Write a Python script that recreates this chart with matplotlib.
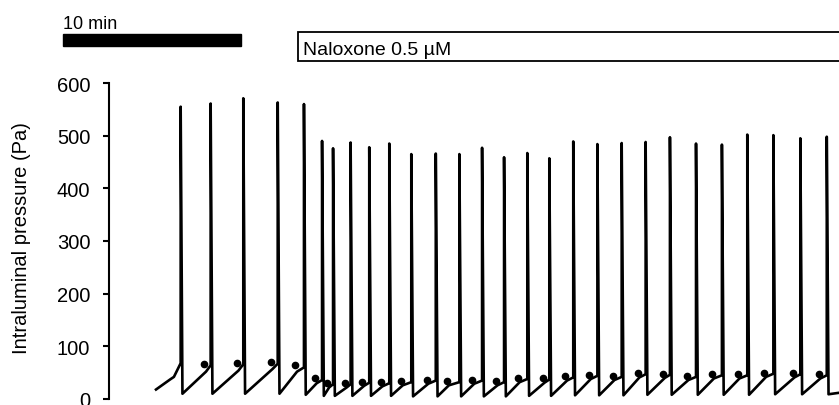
import matplotlib
matplotlib.use("Agg")
import matplotlib.pyplot as plt
from matplotlib.patches import Rectangle

plt.rcParams["font.family"] = ["Liberation Sans", "DejaVu Sans"]

# Contraction spikes (time in min, peak in Pa)
spike_t = [4.04, 5.73, 7.57, 9.51, 10.99, 12.01, 12.63, 13.62, 14.67, 15.80,
           17.04, 18.42, 19.75, 21.03, 22.27, 23.58, 24.82, 26.17, 27.53, 28.90,
           30.25, 31.62, 33.09, 34.55, 35.98, 37.45, 38.97, 40.46]
spike_peak = [555, 561, 571, 563, 560, 490, 476, 487, 478, 485,
              465, 466, 465, 477, 459, 467, 457, 489, 484, 486,
              488, 497, 485, 483, 502, 501, 495, 498]
# baseline pressure right before each spike
pre_v = [68, 64, 66, 67, 60, 36, 28, 28, 31, 30,
         32, 35, 32, 35, 32, 38, 37, 41, 44, 42,
         47, 46, 42, 45, 45, 48, 47, 45]
# minimum pressure right after each spike
trough_v = [10, 10, 10, 10, 8, 6, 6, 6, 6, 6,
            5, 5, 5, 5, 5, 6, 6, 7, 7, 7,
            8, 8, 8, 8, 8, 9, 9, 9]

# threshold markers (dots) between spikes
dot_t = [5.37, 7.20, 9.12, 10.50, 11.61, 12.31, 13.30, 14.28, 15.31, 16.46,
         17.90, 19.06, 20.49, 21.80, 23.05, 24.45, 25.72, 27.06, 28.39, 29.80,
         31.23, 32.56, 34.00, 35.44, 36.94, 38.54, 40.00]
dot_v = [66, 68, 70, 64, 39, 30, 30, 33, 32, 34,
         37, 34, 37, 34, 40, 39, 43, 46, 44, 49,
         48, 44, 47, 47, 50, 49, 47]
# trace level at the dots
shoulder_v = [52, 54, 57, 52, 30, 22, 22, 25, 24, 26,
              29, 26, 29, 26, 32, 31, 35, 38, 36, 41,
              40, 36, 39, 39, 42, 41, 39]

# start and end of the recording
lead_t = [2.65, 3.44, 3.66]
lead_v = [18, 37, 42]
tail_t = [41.2]
tail_v = [12]

# build the trace
xs = list(lead_t)
ys = list(lead_v)
for i in range(len(spike_t)):
    xs += [spike_t[i], spike_t[i], spike_t[i] + 0.1]
    ys += [pre_v[i], spike_peak[i], trough_v[i]]
    if i < len(dot_t):
        xs.append(dot_t[i] + 0.1)
        ys.append(shoulder_v[i])
xs += tail_t
ys += tail_v

fig = plt.figure(figsize=(8.39, 4.06), dpi=100)
ax = fig.add_axes([109 / 839, 6 / 406, 730 / 839, 316 / 406])

ax.plot(xs, ys, color="black", lw=1.9, solid_joinstyle="round")
ax.plot(dot_t, dot_v, "o", color="black", ms=4.5)

ax.set_xlim(0, 41.15)
ax.set_ylim(0, 600)
ax.set_yticks([0, 100, 200, 300, 400, 500, 600])
ax.tick_params(axis="y", labelsize=14.5, width=1.5, length=4.5, pad=9)
ax.set_xticks([])
for s in ["top", "right", "bottom"]:
    ax.spines[s].set_visible(False)
ax.spines["left"].set_linewidth(1.5)

fig.text(21.5 / 839, 1 - 238 / 406, "Intraluminal pressure (Pa)",
         rotation=90, ha="center", va="center", fontsize=14.5)

# 10 min scale bar
ax.add_patch(Rectangle((-2.59, 670), 10.03, 23, color="black", clip_on=False))
ax.text(-2.58, 705, "10 min", fontsize=13, ha="left", va="baseline")

# drug application box
ax.add_patch(Rectangle((10.65, 642), 32, 55, facecolor="white",
                       edgecolor="black", lw=1.3, clip_on=False))
ax.text(10.94, 656, "Naloxone 0.5 µM", fontsize=14, ha="left", va="baseline")

fig.savefig("out.png", dpi=100)
